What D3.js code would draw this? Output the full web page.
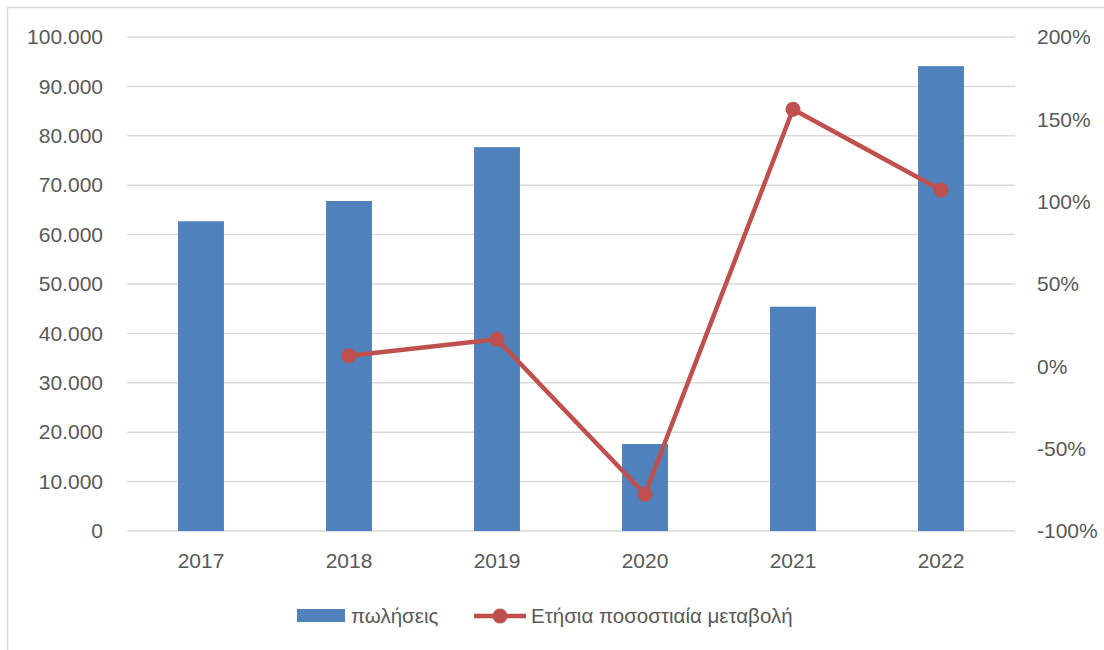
<!DOCTYPE html>
<html>
<head>
<meta charset="utf-8">
<script src="https://cdn.jsdelivr.net/npm/d3@7"></script>
<style>
  html, body { margin: 0; padding: 0; background: #fff; }
  svg { display: block; }
  text { font-family: "Liberation Sans", "Noto Sans", sans-serif; fill: #595959; }
</style>
</head>
<body>
<svg id="chart" width="1104" height="650"></svg>
<script>
// Yearly sales and their year-over-year percentage change
const years = ["2017", "2018", "2019", "2020", "2021", "2022"];
const sales = [62700, 66800, 77700, 17600, 45400, 94100];
const yoyChange = [null, 6.4, 16.4, -77.7, 156.1, 107.1];
const salesTicks = [0, 10000, 20000, 30000, 40000, 50000, 60000, 70000, 80000, 90000, 100000];
const pctTicks = [-100, -50, 0, 50, 100, 150, 200];
const seriesNames = ["πωλήσεις", "Ετήσια ποσοστιαία μεταβολή"];

const barColor = "#4F81BD";
const lineColor = "#C0504D";
const gridColor = "#D9D9D9";
const tickFont = "21px";
const legendFont = "20.5px";

const svg = d3.select("#chart");

// outer chart frame
svg.append("rect")
  .attr("x", 7.5).attr("y", 7.5)
  .attr("width", 1104).attr("height", 650)
  .attr("fill", "none").attr("stroke", "#D9D9D9").attr("stroke-width", 1.5);

const plot = { left: 127, right: 1015, top: 37, bottom: 531 };

const x = d3.scaleBand().domain(years).range([plot.left, plot.right]).paddingInner(0).paddingOuter(0);
const ySales = d3.scaleLinear().domain([0, 100000]).range([plot.bottom, plot.top]);
const yPct = d3.scaleLinear().domain([-100, 200]).range([plot.bottom, plot.top]);

const fmtSales = v => d3.format(",")(v).replace(/,/g, ".");

// gridlines
svg.append("g").selectAll("line").data(salesTicks).join("line")
  .attr("x1", plot.left).attr("x2", plot.right)
  .attr("y1", d => ySales(d)).attr("y2", d => ySales(d))
  .attr("stroke", gridColor).attr("stroke-width", 1.5);

// left axis (sales)
const leftAxis = svg.append("g")
  .attr("transform", `translate(${plot.left - 24},0)`)
  .call(d3.axisLeft(ySales).tickValues(salesTicks).tickFormat(fmtSales).tickSize(0).tickPadding(0));
leftAxis.select(".domain").remove();
leftAxis.selectAll("text").style("font-size", tickFont).attr("fill", "#595959");

// right axis (percentage)
const rightAxis = svg.append("g")
  .attr("transform", `translate(${plot.right + 22},0)`)
  .call(d3.axisRight(yPct).tickValues(pctTicks).tickFormat(d => d + "%").tickSize(0).tickPadding(0));
rightAxis.select(".domain").remove();
rightAxis.selectAll("text").style("font-size", tickFont).attr("fill", "#595959");

// bottom axis (years)
const bottomAxis = svg.append("g")
  .attr("transform", `translate(0,${plot.bottom + 14})`)
  .call(d3.axisBottom(x).tickSize(0).tickPadding(8));
bottomAxis.select(".domain").remove();
bottomAxis.selectAll("text").style("font-size", tickFont).attr("fill", "#595959");

// bars
const barW = x.bandwidth() * 0.31;
svg.append("g").selectAll("rect").data(years).join("rect")
  .attr("x", d => x(d) + (x.bandwidth() - barW) / 2)
  .attr("width", barW)
  .attr("y", (d, i) => ySales(sales[i]))
  .attr("height", (d, i) => ySales(0) - ySales(sales[i]))
  .attr("fill", barColor);

// percentage change line
const pts = years.map((d, i) => ({ year: d, v: yoyChange[i] })).filter(p => p.v !== null);
const line = d3.line()
  .x(p => x(p.year) + x.bandwidth() / 2)
  .y(p => yPct(p.v));
svg.append("path").datum(pts)
  .attr("d", line)
  .attr("fill", "none").attr("stroke", lineColor)
  .attr("stroke-width", 4.5).attr("stroke-linejoin", "round");
svg.append("g").selectAll("circle").data(pts).join("circle")
  .attr("cx", p => x(p.year) + x.bandwidth() / 2)
  .attr("cy", p => yPct(p.v))
  .attr("r", 7.5)
  .attr("fill", lineColor);

// legend
const legend = svg.append("g");
legend.append("rect")
  .attr("x", 297).attr("y", 609).attr("width", 48).attr("height", 13)
  .attr("fill", barColor);
legend.append("text")
  .attr("x", 351).attr("y", 616).attr("dy", "0.35em")
  .style("font-size", legendFont).text(seriesNames[0]);
legend.append("line")
  .attr("x1", 474).attr("x2", 526).attr("y1", 616).attr("y2", 616)
  .attr("stroke", lineColor).attr("stroke-width", 4.5);
legend.append("circle")
  .attr("cx", 500).attr("cy", 616).attr("r", 7.5).attr("fill", lineColor);
legend.append("text")
  .attr("x", 531).attr("y", 616).attr("dy", "0.35em")
  .style("font-size", legendFont).text(seriesNames[1]);
</script>
</body>
</html>
